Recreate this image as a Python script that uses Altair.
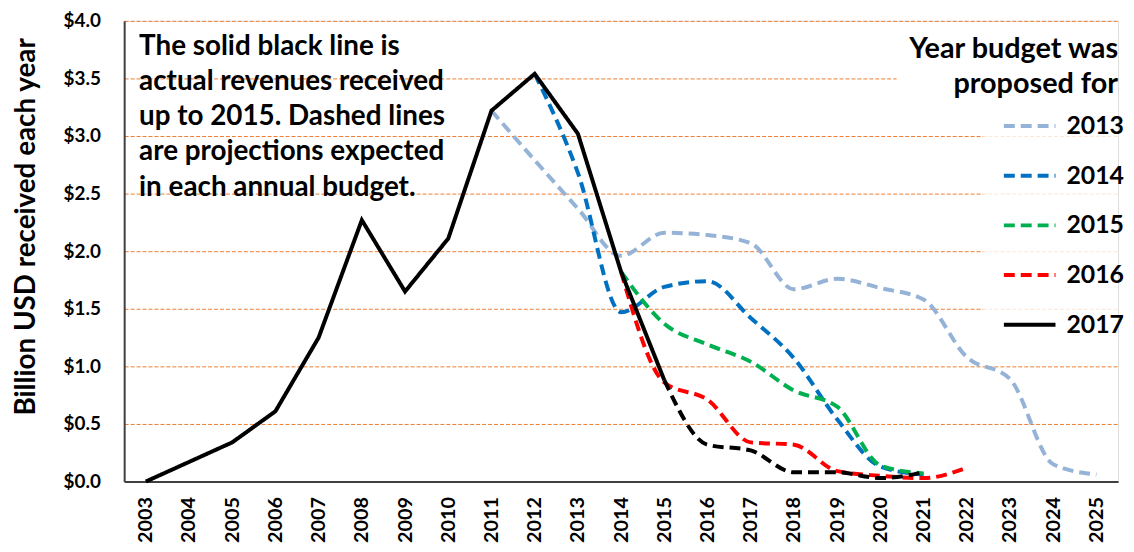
import altair as alt
import pandas as pd

# ---- data (billion USD) ----
actual_years = list(range(2003, 2016))
actual_vals = [0.0, 0.17, 0.34, 0.61, 1.25, 2.27, 1.65, 2.11, 3.22, 3.54, 3.02, 1.82, 0.88]

b2013_years = list(range(2011, 2026))
b2013_vals = [3.22, 2.79, 2.37, 1.96, 2.16, 2.14, 2.07, 1.67, 1.76, 1.68, 1.58, 1.08, 0.89, 0.15, 0.06]

b2014_years = list(range(2012, 2022))
b2014_vals = [3.54, 2.68, 1.47, 1.69, 1.74, 1.42, 1.07, 0.54, 0.13, 0.06]

b2015_years = list(range(2014, 2022))
b2015_vals = [1.82, 1.37, 1.19, 1.04, 0.79, 0.65, 0.14, 0.07]

b2016_years = list(range(2014, 2023))
b2016_vals = [1.82, 0.86, 0.71, 0.34, 0.32, 0.09, 0.05, 0.03, 0.12]

b2017_years = list(range(2015, 2022))
b2017_vals = [0.88, 0.32, 0.27, 0.08, 0.08, 0.03, 0.08]

budgets = ["2013", "2014", "2015", "2016", "2017"]
colors = ["#95B3D7", "#0070C0", "#00B050", "#FF0000", "#000000"]
dash = [11, 6]
dashes = [dash, dash, dash, dash, [1, 0]]

x_ticks = list(range(2003, 2026))
y_ticks = [0, 0.5, 1.0, 1.5, 2.0, 2.5, 3.0, 3.5, 4.0]

annotation = ["The solid black line is", "actual revenues received",
              "up to 2015. Dashed lines", "are projections expected",
              "in each annual  budget."]
legend_title = ["Year budget was", "proposed for"]
y_title = "Billion USD received each year"

FONT = "Lato"

rows = []
for b, ys, vs in [("2013", b2013_years, b2013_vals), ("2014", b2014_years, b2014_vals),
                  ("2015", b2015_years, b2015_vals), ("2016", b2016_years, b2016_vals)]:
    for y, v in zip(ys, vs):
        rows.append({"year": y, "value": v, "budget": b})
proj = pd.DataFrame(rows)
proj17 = pd.DataFrame({"year": b2017_years, "value": b2017_vals, "budget": "2017"})
act = pd.DataFrame({"year": actual_years, "value": actual_vals, "budget": "2017"})
one = pd.DataFrame({"t": [0]})

x_enc = alt.X("year:Q",
              scale=alt.Scale(domain=[2002.5, 2025.5], nice=False, zero=False),
              axis=alt.Axis(values=x_ticks, format="d", labelAngle=-90, labelAlign="right",
                            labelBaseline="middle", labelPadding=15, ticks=False, grid=False,
                            labelFont=FONT, labelFontWeight="bold", labelFontSize=20,
                            labelColor="#000000", domainColor="#404040", domainWidth=2,
                            title=None, labelOverlap=False))
y_enc = alt.Y("value:Q",
              scale=alt.Scale(domain=[0, 4], nice=False),
              axis=alt.Axis(values=y_ticks, format="$.1f", ticks=False, grid=True,
                            gridColor="#ED7D31", gridDash=[4, 2], gridWidth=1,
                            labelFont=FONT, labelFontWeight="bold", labelFontSize=19,
                            labelColor="#000000", labelPadding=24,
                            domainColor="#404040", domainWidth=2,
                            title=y_title, titleFont=FONT, titleFontWeight="bold",
                            titleFontSize=28, titleColor="#000000", titleAngle=-90,
                            titleX=-98, titleY=207, titleAlign="center",
                            titleBaseline="middle"))

leg = alt.Legend(orient="none", legendX=871, legendY=65, padding=13, title=None,
                 symbolType="stroke", symbolSize=2704, symbolStrokeWidth=4,
                 labelFont=FONT, labelFontWeight="bold", labelFontSize=25,
                 labelColor="#000000", labelOffset=9, rowPadding=9)

color_enc = alt.Color("budget:N", scale=alt.Scale(domain=budgets, range=colors), legend=leg)
dash_enc = alt.StrokeDash("budget:N", scale=alt.Scale(domain=budgets, range=dashes), legend=leg)

# white boxes behind the legend title (opaque) and legend entries (translucent)
title_box = alt.Chart(one).mark_rect(color="white", opacity=1).encode(
    x=alt.value(778), x2=alt.value(1001), y=alt.value(11), y2=alt.value(81))
legend_box = alt.Chart(one).mark_rect(color="white", opacity=0.8).encode(
    x=alt.value(865), x2=alt.value(1001), y=alt.value(81), y2=alt.value(326))

proj_layer = alt.Chart(proj).mark_line(strokeWidth=4, interpolate="monotone").encode(
    x=x_enc, y=y_enc, color=color_enc, strokeDash=dash_enc)

proj17_layer = alt.Chart(proj17).mark_line(strokeWidth=4, interpolate="monotone",
                                           strokeDash=dash, color="#000000").encode(
    x="year:Q", y="value:Q")

act_layer = alt.Chart(act).mark_line(strokeWidth=4).encode(
    x="year:Q", y="value:Q", color=color_enc, strokeDash=dash_enc)

note = alt.Chart(one).mark_text(
    align="left", baseline="alphabetic", font=FONT, fontWeight="bold", fontSize=28,
    lineHeight=35.5, color="#000000").encode(
    x=alt.value(15), y=alt.value(34), text=alt.value(annotation))

ltitle = alt.Chart(one).mark_text(
    align="right", baseline="alphabetic", font=FONT, fontWeight="bold", fontSize=29,
    lineHeight=36, color="#000000").encode(
    x=alt.value(1001), y=alt.value(37), text=alt.value(legend_title))

chart = alt.layer(title_box, legend_box, proj_layer, proj17_layer, act_layer,
                  note, ltitle).properties(
    width=1001, height=464,
    autosize=alt.AutoSizeParams(type="none"),
    padding={"left": 117, "top": 11, "right": 8, "bottom": 66},
).configure_view(stroke=None).configure(background="white")

chart.save("out.html", embed_options={"renderer": "svg", "actions": False})
